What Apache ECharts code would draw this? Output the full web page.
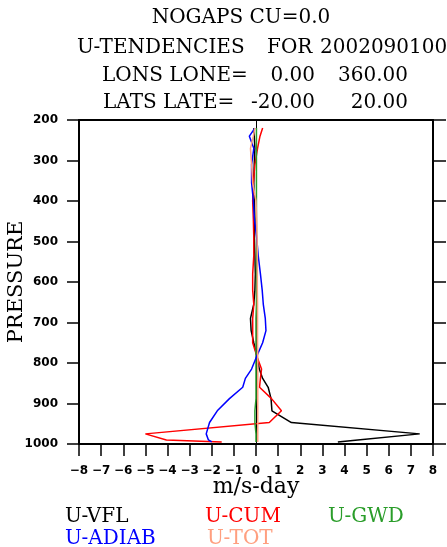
<!DOCTYPE html>
<html>
<head>
<meta charset="utf-8">
<script src="https://cdn.jsdelivr.net/npm/echarts@6/dist/echarts.min.js"></script>
<style>
  html, body { margin: 0; padding: 0; background: #fff; }
  #main { width: 447px; height: 547px; }
</style>
</head>
<body>
<div id="main"></div>
<script>
// model levels (hPa) and tendencies (m/s-day) at each level
const pressure = [995, 990, 975, 947, 918, 888, 860, 838, 815, 785, 750, 720, 690, 655, 620, 580, 535, 490, 445, 400, 355, 310, 270, 240, 220];
const uVfl   = [3.7, 4.6, 7.4, 1.6, 0.72, 0.68, 0.55, 0.3, 0.15, 0.05, -0.1, -0.22, -0.25, -0.1, -0.05, -0.03, -0.05, -0.08, -0.05, -0.08, -0.1, -0.08, -0.05, -0.08, -0.1];
const uCum   = [-1.55, -4.05, -5.0, 0.6, 1.15, 0.7, 0.16, 0.2, 0.25, 0.05, -0.15, -0.15, -0.15, -0.1, -0.15, -0.15, -0.1, -0.1, -0.12, -0.15, -0.12, -0.05, 0.07, 0.18, 0.3];
const uGwd   = [0.0, 0.0, 0.0, -0.05, -0.05, 0.0, 0.0, 0.0, 0.0, 0.0, 0.0, 0.0, 0.0, 0.02, 0.02, 0.02, 0.02, 0.02, 0.02, 0.02, 0.02, 0.02, 0.02, 0.02, 0.02];
const uAdiab = [-2.0, -2.15, -2.25, -2.1, -1.75, -1.2, -0.6, -0.48, -0.2, 0.02, 0.3, 0.45, 0.42, 0.33, 0.28, 0.2, 0.1, 0.03, -0.07, -0.12, -0.2, -0.2, -0.1, -0.3, -0.05];
const uTot   = [0.08, 0.08, 0.08, 0.08, 0.08, 0.08, 0.08, 0.08, 0.08, 0.08, 0.07, 0.07, 0.07, 0.07, 0.06, 0.06, 0.06, 0.05, 0.03, 0.0, -0.15, -0.2, -0.25, -0.12, -0.05];

const seriesNames  = ['U-VFL', 'U-CUM', 'U-GWD', 'U-ADIAB', 'U-TOT'];
const seriesValues = [uVfl, uCum, uGwd, uAdiab, uTot];
const seriesColors = ['#000000', '#ff0000', '#2a9d2a', '#0000ff', '#ff9f7f'];

// title tokens: text, x, alignment
const titleLines = [
  [['NOGAPS CU=0.0', 241, 'center']],
  [['U-TENDENCIES', 77, 'left'], ['FOR', 267, 'left'], ['2002090100', 320, 'left']],
  [['LONS LONE=', 102, 'left'], ['0.00', 315, 'right'], ['360.00', 408, 'right']],
  [['LATS LATE=', 103, 'left'], ['-20.00', 315, 'right'], ['20.00', 408, 'right']]
];

const chart = echarts.init(document.getElementById('main'));
const serif = 'DejaVu Serif';
const titleY = [18, 48, 76, 103];

const graphics = [];
titleLines.forEach((line, i) => {
  line.forEach(([t, x, align]) => {
    graphics.push({
      type: 'text', x: x, y: titleY[i],
      style: { text: t, font: '20px "' + serif + '"', fill: '#000', textAlign: align, textVerticalAlign: 'middle' }
    });
  });
});
const legendPos = [[65, 517], [205, 517], [328, 517], [65, 539], [207, 539]];
seriesNames.forEach((n, i) => {
  graphics.push({
    type: 'text', x: legendPos[i][0], y: legendPos[i][1],
    style: { text: n, font: '20px "' + serif + '"', fill: seriesColors[i], textVerticalAlign: 'middle' }
  });
});

const tickFont = { fontFamily: 'DejaVu Sans', fontWeight: 'bold', fontSize: 12, color: '#000' };
const axisLine = { show: true, onZero: false, lineStyle: { color: '#000', width: 2 } };

const option = {
  animation: false,
  backgroundColor: '#fff',
  grid: { left: 79, right: 14, top: 120, bottom: 103, containLabel: false, outerBoundsMode: 'none' },
  xAxis: [
    {
      type: 'value', min: -8, max: 8, interval: 1, position: 'bottom',
      axisLine: axisLine,
      axisTick: { show: true, inside: false, length: 12, lineStyle: { color: '#000', width: 1.5 } },
      axisLabel: Object.assign({ margin: 21, formatter: v => String(v).replace('-', '\u2212') }, tickFont),
      splitLine: { show: false },
      name: 'm/s-day', nameLocation: 'middle', nameGap: 32, nameMoveOverlap: false,
      nameTextStyle: { fontFamily: serif, fontSize: 22, color: '#000' }
    },
    {
      type: 'value', min: -8, max: 8, position: 'top',
      axisLine: axisLine, axisTick: { show: false }, axisLabel: { show: false }, splitLine: { show: false }
    }
  ],
  yAxis: [
    {
      type: 'value', min: 200, max: 1000, interval: 100, inverse: true, position: 'left',
      axisLine: axisLine,
      axisTick: { show: true, inside: false, length: 12, lineStyle: { color: '#000', width: 1.5 } },
      axisLabel: Object.assign({ margin: 21, formatter: v => String(v) }, tickFont),
      splitLine: { show: false },
      name: 'PRESSURE', nameLocation: 'middle', nameGap: 52, nameMoveOverlap: false,
      nameTextStyle: { fontFamily: serif, fontSize: 21, color: '#000' }
    },
    {
      type: 'value', min: 200, max: 1000, interval: 100, inverse: true, position: 'right',
      axisLine: axisLine,
      axisTick: { show: true, inside: false, length: 13, lineStyle: { color: '#000', width: 1.5 } },
      axisLabel: { show: false }, splitLine: { show: false }
    }
  ],
  series: seriesNames.map((name, i) => ({
    name: name,
    type: 'line',
    xAxisIndex: 0,
    yAxisIndex: 0,
    z: 3 + i,
    symbol: 'none',
    color: seriesColors[i],
    lineStyle: { color: seriesColors[i], width: 1.5 },
    data: pressure.map((p, k) => [seriesValues[i][k], p]),
    markLine: i === 0 ? {
      silent: true, symbol: 'none', label: { show: false }, z: 1,
      lineStyle: { color: '#000', width: 1, type: 'solid' },
      data: [{ xAxis: 0 }]
    } : undefined
  })),
  graphic: graphics
};

chart.setOption(option);
</script>
</body>
</html>
